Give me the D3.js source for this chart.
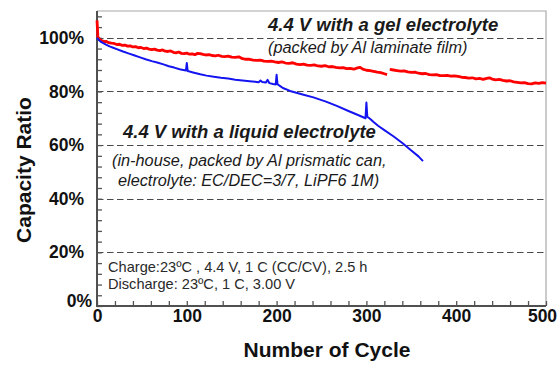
<!DOCTYPE html>
<html>
<head>
<meta charset="utf-8">
<script src="https://cdn.jsdelivr.net/npm/d3@7"></script>
<style>
  body { margin: 0; background: #fff; }
  svg { display: block; font-family: "Liberation Sans", Arial, Helvetica, sans-serif; }
</style>
</head>
<body>
<svg id="chart" width="559" height="365"></svg>
<script>
// Gel electrolyte cell (Al laminate film) — cycle number and capacity ratio (%).
// A null value marks the short break in the record around cycle 324.
const gelCycles = [0, 1, 3, 5, 8, 10, 13, 16, 19, 22, 25, 28, 31, 34, 37, 40, 43, 46, 49, 52,
  55, 58, 61, 64, 67, 70, 73, 76, 79, 82, 85, 88, 91, 94, 97, 100, 103, 106, 109, 112,
  115, 118, 121, 125, 128, 132, 135, 139, 142, 146, 150, 154, 158, 162, 166, 170, 174, 178, 182, 186,
  190, 194, 198, 202, 206, 210, 214, 218, 222, 226, 230, 234, 238, 242, 246, 250, 254, 258, 262, 266,
  270, 274, 278, 282, 286, 290, 293, 296, 300, 304, 308, 312, 316, 320, 323, 324.5,
  326, 330, 334, 338, 342, 346, 350, 354, 358, 362, 366, 370, 374, 378, 382, 386, 390, 394, 398,
  402, 406, 410, 414, 418, 422, 426, 430, 434, 437, 440, 444, 448, 452, 456, 460, 464, 468, 472,
  476, 480, 484, 488, 492, 496, 500];
const gelCapacity = [106.5, 100.3, 99.4, 99.0, 98.6, 98.7, 98.2, 98.0, 97.9, 97.5, 97.6, 97.2, 97.3, 96.9, 97.0, 96.6, 96.7, 96.3, 96.4, 96.0,
  96.2, 95.8, 95.6, 95.8, 95.4, 95.2, 95.5, 95.0, 94.9, 95.1, 94.6, 94.4, 94.7, 94.2, 94.1, 94.3, 93.9, 94.0, 93.7, 94.2,
  94.1, 93.8, 93.6, 93.7, 93.4, 93.3, 93.5, 93.1, 93.0, 93.2, 92.8, 92.7, 92.9, 92.2, 92.0, 92.0, 91.7, 91.6, 91.7, 91.3,
  91.2, 91.3, 91.0, 90.8, 91.0, 90.6, 90.5, 90.7, 90.2, 90.0, 90.2, 89.8, 89.7, 89.9, 89.5, 89.4, 89.6, 89.2, 89.3, 89.0,
  88.8, 88.9, 88.5, 88.6, 88.3, 88.8, 89.0, 88.3, 87.9, 87.8, 87.5, 87.2, 87.0, 86.6, 86.3, null,
  88.2, 88.0, 87.8, 87.6, 87.7, 87.3, 87.1, 87.2, 86.8, 86.6, 86.7, 86.3, 86.2, 86.3, 85.9, 85.9, 86.0, 85.7, 85.8,
  85.6, 85.3, 85.2, 85.0, 85.1, 84.7, 84.9, 84.5, 84.9, 85.1, 84.6, 84.3, 84.5, 84.1, 83.9, 84.0, 83.6, 83.4, 83.2,
  83.3, 82.9, 82.8, 83.2, 83.0, 83.3, 83.1];

// Liquid electrolyte cell (Al prismatic can) — cycle number and capacity ratio (%).
const liquidCycles = [0, 2, 4, 7, 10, 14, 18, 22, 29, 35, 42, 48, 55, 61, 67, 74, 80, 86, 92, 99,
  100, 101, 107, 115, 122, 130, 138, 146, 154, 162, 170, 176, 180, 182, 184, 188, 190, 192, 196, 199,
  200, 201, 204, 207, 215, 222, 230, 241, 255, 267, 280, 290, 299, 300, 301, 304, 308, 313, 320, 330,
  340, 350, 358, 363];
const liquidCapacity = [100, 99.2, 98.6, 98.0, 97.5, 96.8, 96.3, 95.8, 94.9, 94.2, 93.4, 92.7, 91.9, 91.3, 90.8, 90.1, 89.4, 88.9, 88.3, 87.8,
  90.6, 87.6, 87.1, 86.4, 85.9, 85.5, 85.1, 84.8, 84.4, 84.1, 83.8, 83.6, 83.4, 84.1, 83.5, 83.3, 84.3, 83.1, 82.8, 82.6,
  86.2, 82.7, 82.0, 81.3, 80.2, 79.5, 78.8, 77.8, 76.2, 74.6, 72.7, 71.3, 70.0, 75.9, 70.6, 69.8, 68.6, 67.2, 65.6, 63.3,
  60.8, 58.0, 55.8, 54.0];

// Axis ticks
const xMajorTicks = [0, 100, 200, 300, 400, 500];
const xMinorTicks = d3.range(0, 501, 20);
const yMajorTicks = [0, 20, 40, 60, 80, 100];
const yTickLabels = ["0%", "20%", "40%", "60%", "80%", "100%"];
const yMinorTicks = d3.range(0, 109, 4);
const gridLevels = [20, 40, 60, 80, 100];

const svg = d3.select("#chart");
const plotLeft = 97, plotRight = 546, plotTop = 11, plotBottom = 306;

const x = d3.scaleLinear().domain([0, 500]).range([plotLeft, plotRight]);
const y = d3.scaleLinear().domain([0, 110]).range([plotBottom, plotTop]);

// frame: light top / right edges
svg.append("path")
  .attr("d", `M${plotLeft},${plotTop}H${plotRight}V${plotBottom}`)
  .attr("fill", "none").attr("stroke", "#a8a8a8").attr("stroke-width", 1.2);

// dashed reference levels
svg.append("g").selectAll("line").data(gridLevels).join("line")
  .attr("x1", plotLeft).attr("x2", plotRight)
  .attr("y1", d => Math.round(y(d)) + 0.5).attr("y2", d => Math.round(y(d)) + 0.5)
  .attr("stroke", "#4a4a4a").attr("stroke-width", 1.1)
  .attr("stroke-dasharray", "6.5,3.5");

// inward minor ticks
svg.append("g").attr("transform", `translate(0,${plotBottom})`)
  .call(d3.axisBottom(x).tickValues(xMinorTicks).tickSizeInner(-5).tickSizeOuter(0).tickFormat(""))
  .call(g => g.select(".domain").remove())
  .call(g => g.selectAll("line").attr("stroke", "#555").attr("stroke-width", 1.3));
svg.append("g").attr("transform", `translate(${plotLeft},0)`)
  .call(d3.axisLeft(y).tickValues(yMinorTicks).tickSizeInner(-5).tickSizeOuter(0).tickFormat(""))
  .call(g => g.select(".domain").remove())
  .call(g => g.selectAll("line").attr("stroke", "#555").attr("stroke-width", 1.3));

// tick labels
const xAxis = svg.append("g").attr("transform", `translate(0,${plotBottom})`)
  .call(d3.axisBottom(x).tickValues(xMajorTicks).tickSize(0).tickPadding(4).tickFormat(d3.format("d")));
xAxis.select(".domain").remove();
xAxis.selectAll("text")
  .attr("font-family", "Liberation Sans, Arial, sans-serif")
  .attr("font-size", 17.5).attr("font-weight", "bold").attr("fill", "#111");
// keep the last label inside the page edge
xAxis.selectAll(".tick").filter(d => d === 500).select("text").attr("dx", -4);

const yAxis = svg.append("g").attr("transform", `translate(${plotLeft},0)`)
  .call(d3.axisLeft(y).tickValues(yMajorTicks).tickSize(0).tickPadding(13)
    .tickFormat((d, i) => yTickLabels[i]));
yAxis.select(".domain").remove();
yAxis.selectAll("text")
  .attr("font-family", "Liberation Sans, Arial, sans-serif")
  .attr("font-size", 17.5).attr("font-weight", "bold").attr("fill", "#111");
// the 0% label sits up and right of the corner
yAxis.selectAll(".tick").filter(d => d === 0).select("text")
  .attr("x", -5).attr("dy", "0.0em");

// main axis lines
svg.append("path")
  .attr("d", `M${plotLeft},${plotTop}V${plotBottom}H${plotRight}`)
  .attr("fill", "none").attr("stroke", "#505050").attr("stroke-width", 2);

// curves
const line = d3.line()
  .defined(d => d[1] !== null)
  .x(d => x(d[0])).y(d => y(d[1]));

svg.append("path")
  .datum(gelCycles.map((c, i) => [c, gelCapacity[i]]))
  .attr("d", line)
  .attr("fill", "none").attr("stroke", "#ff0000").attr("stroke-width", 2.8)
  .attr("stroke-linejoin", "round");

svg.append("path")
  .datum(liquidCycles.map((c, i) => [c, liquidCapacity[i]]))
  .attr("d", line)
  .attr("fill", "none").attr("stroke", "#1414f0").attr("stroke-width", 2)
  .attr("stroke-linejoin", "round");

// annotations
const note = (tx, ty, str, size, weight, style) => svg.append("text")
  .attr("x", tx).attr("y", ty).text(str)
  .attr("font-size", size).attr("font-weight", weight).attr("font-style", style)
  .attr("fill", "#1a1a1a");

note(268, 31, "4.4 V with a gel electrolyte", 18.5, "bold", "italic");
note(268, 53, "(packed by Al laminate film)", 16.3, "normal", "italic");
note(123, 138, "4.4 V with a liquid electrolyte", 18.5, "bold", "italic");
note(112, 166, "(in-house, packed by Al prismatic can,", 16.3, "normal", "italic");
note(118, 186, "electrolyte: EC/DEC=3/7, LiPF6 1M)", 16.3, "normal", "italic");
note(108, 272, "Charge:23ºC , 4.4 V, 1 C (CC/CV), 2.5 h", 14.6, "normal", "normal").attr("fill", "#2a2a2a");
note(108, 289, "Discharge: 23ºC, 1 C, 3.00 V", 14.6, "normal", "normal").attr("fill", "#2a2a2a");

// axis titles
svg.append("text")
  .attr("transform", "translate(31,170) rotate(-90)")
  .attr("text-anchor", "middle")
  .attr("font-size", 21).attr("font-weight", "bold").attr("fill", "#111")
  .text("Capacity Ratio");
svg.append("text")
  .attr("x", 327).attr("y", 357)
  .attr("text-anchor", "middle")
  .attr("font-size", 21).attr("font-weight", "bold").attr("fill", "#111")
  .text("Number of Cycle");
</script>
</body>
</html>
